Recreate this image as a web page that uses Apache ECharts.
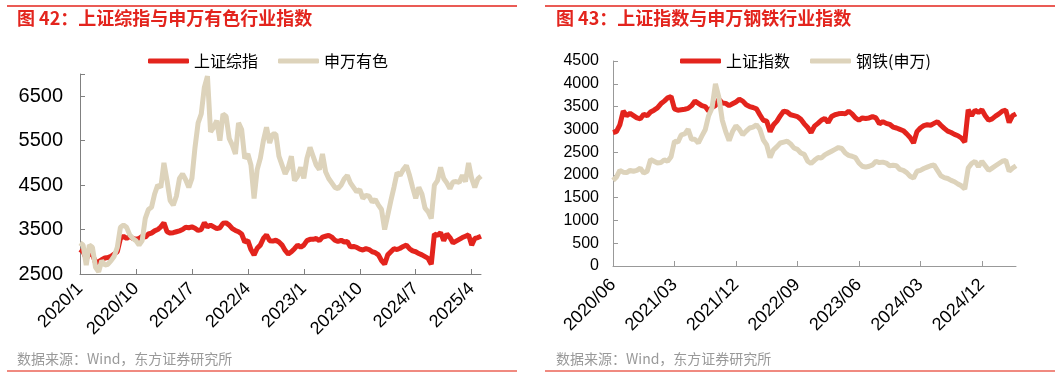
<!DOCTYPE html>
<html><head><meta charset="utf-8">
<script src="https://cdn.jsdelivr.net/npm/echarts@6/dist/echarts.min.js"></script>
<style>html,body{margin:0;padding:0;background:#fff}#c{width:1061px;height:379px}</style>
</head><body><div id="c"></div>
<script>
// ---- Left chart: 上证综指 vs 申万有色 (semi-monthly, from 2020/1) ----
const leftStart = [2020, 1];
const leftTickLabels = ['2020/1','2020/10','2021/7','2022/4','2023/1','2023/10','2024/7','2025/4'];
const szzz = [3050,3000,2850,2950,2950,2750,2780,2820,2860,2870,2900,2950,3000,3300,3350,3300,3350,3300,3280,3300,
  3350,3330,3400,3420,3470,3500,3560,3650,3450,3420,3430,3450,3470,3500,3550,3540,3560,3530,3480,3500,
  3650,3560,3600,3560,3520,3540,3640,3650,3600,3520,3480,3450,3400,3220,3250,3050,2930,3080,3150,3300,
  3380,3250,3240,3260,3220,3150,3030,2950,3000,3070,3150,3100,3150,3250,3280,3280,3300,3250,3330,3350,
  3370,3330,3260,3230,3260,3220,3230,3110,3120,3100,3060,3040,3070,3050,3000,2980,2930,2800,2720,2930,
  3000,3070,3050,3080,3120,3150,3070,3020,3000,2960,2930,2890,2850,2720,3400,3370,3430,3250,3400,3320,
  3200,3240,3280,3320,3350,3380,3150,3300,3320,3350];
const swys = [3200,3150,2700,3150,3100,2650,2550,2800,2700,2720,2800,2900,3100,3550,3600,3550,3380,3300,3250,3150,
  3250,3750,3950,4000,4300,4500,4450,5000,4600,4150,4050,4250,4650,4750,4620,4450,4650,5350,5900,6100,
  6700,6950,5700,5800,5950,5500,6100,6050,5550,5400,5200,5900,5750,5100,5200,4950,4200,4850,5100,5500,
  5800,5450,5650,5650,5150,4950,4750,4900,5150,4600,4700,4900,4650,5100,5350,5150,4950,4850,5200,4800,
  4650,4550,4450,4420,4500,4640,4720,4550,4450,4350,4400,4200,4270,4250,4120,4180,4050,3950,3500,3820,
  4150,4450,4780,4720,4850,4940,4720,4450,4200,4450,4300,3980,3900,3750,4500,4600,4900,4650,4550,4420,
  4570,4580,4560,4720,4580,5000,4650,4450,4640,4700];

// ---- Right chart: 上证指数 vs 钢铁(申万) (semi-monthly, from 2020/6) ----
const rightStart = [2020, 6];
const rightTickLabels = ['2020/06','2021/03','2021/12','2022/09','2023/06','2024/03','2024/12'];
const szzs = [2930,2950,3100,3400,3300,3350,3300,3250,3230,3330,3300,3380,3420,3470,3560,3620,3690,3720,3450,3420,
  3430,3440,3460,3520,3620,3570,3520,3500,3400,3480,3520,3660,3580,3570,3520,3560,3600,3660,3620,3540,
  3500,3480,3450,3320,3200,3180,2950,3100,3180,3300,3400,3380,3320,3300,3280,3220,3120,3040,2930,3070,
  3130,3200,3240,3150,3280,3320,3340,3350,3340,3400,3340,3250,3200,3250,3240,3250,3280,3250,3120,3170,
  3130,3110,3050,3030,3000,2970,2900,2820,2700,2950,3030,3080,3100,3090,3130,3170,3090,3020,2960,2930,
  2890,2860,2810,2720,3430,3300,3420,3370,3430,3300,3200,3230,3290,3340,3400,3420,3150,3300,3340];
const gtsw = [1880,1950,2100,2060,2050,2100,2080,2100,2150,2040,2080,2340,2300,2260,2270,2330,2300,2400,2740,2720,
  2880,2900,3000,2780,2780,2700,2850,2990,3300,3470,4000,3700,3200,2950,2750,2950,3080,3000,2880,2960,
  3030,3050,3100,3000,2770,2660,2380,2550,2620,2700,2720,2740,2680,2590,2560,2480,2450,2300,2250,2320,
  2380,2370,2440,2480,2520,2560,2600,2580,2480,2430,2410,2380,2260,2190,2170,2190,2220,2300,2270,2280,
  2260,2200,2210,2200,2120,2100,2050,1970,1930,2080,2100,2140,2170,2200,2220,2100,1980,1940,1920,1880,
  1850,1800,1760,1690,2150,2250,2300,2180,2300,2200,2100,2150,2200,2250,2300,2320,2080,2150,2200];

function semiMonthly(start, n, pad) {
  const out = [];
  for (let i = 0; i < n; i++) {
    const m = start[1] - 1 + Math.floor(i / 2);
    const y = start[0] + Math.floor(m / 12);
    const mm = (m % 12) + 1;
    const d = i % 2 === 0 ? '01' : '16';
    out.push(y + '/' + (pad && mm < 10 ? '0' + mm : mm) + '/' + d);
  }
  return out;
}
const leftDates = semiMonthly(leftStart, szzz.length, false);
const rightDates = semiMonthly(rightStart, szzs.length, true);

const RED = '#e3241d', BEIGE = '#ddd3bb';
const tickEvery = (i) => i % 18 === 0;
const CJK = 'Noto Sans CJK SC, sans-serif';
const LAT = 'Liberation Sans, Arial, sans-serif';

const chart = echarts.init(document.getElementById('c'), null, {renderer: 'canvas'});
chart.setOption({
  animation: false,
  textStyle: {fontFamily: LAT},
  title: [
    {text: '图 42：上证综指与申万有色行业指数', left: 17, top: 9, padding: 0,
     textStyle: {color: RED, fontSize: 18, fontWeight: 'bold', fontFamily: CJK}},
    {text: '图 43：上证指数与申万钢铁行业指数', left: 556, top: 9, padding: 0,
     textStyle: {color: RED, fontSize: 18, fontWeight: 'bold', fontFamily: CJK}}
  ],
  graphic: [
    {type: 'line', shape: {x1: 7, y1: 6, x2: 517, y2: 6}, style: {stroke: RED, lineWidth: 1.5}},
    {type: 'line', shape: {x1: 545, y1: 6, x2: 1055, y2: 6}, style: {stroke: RED, lineWidth: 1.5}},
    {type: 'line', shape: {x1: 7, y1: 371, x2: 517, y2: 371}, style: {stroke: '#f08a80', lineWidth: 2}},
    {type: 'line', shape: {x1: 545, y1: 371, x2: 1055, y2: 371}, style: {stroke: '#f08a80', lineWidth: 2}},
    {type: 'text', left: 17, top: 352, style: {text: '数据来源：Wind，东方证券研究所', fill: '#999', fontSize: 14, fontFamily: CJK}},
    {type: 'text', left: 556, top: 352, style: {text: '数据来源：Wind，东方证券研究所', fill: '#999', fontSize: 14, fontFamily: CJK}}
  ],
  legend: [
    {left: 148, top: 53, padding: 0, itemWidth: 41, itemHeight: 5, itemGap: 20, icon: 'roundRect',
     textStyle: {fontSize: 16, color: '#000', fontFamily: CJK},
     data: [{name: '上证综指', itemStyle: {color: RED}}, {name: '申万有色', itemStyle: {color: BEIGE}}]},
    {left: 680, top: 53, padding: 0, itemWidth: 41, itemHeight: 5, itemGap: 20, icon: 'roundRect',
     textStyle: {fontSize: 16, color: '#000', fontFamily: CJK},
     data: [{name: '上证指数', itemStyle: {color: RED}}, {name: '钢铁(申万)', itemStyle: {color: BEIGE}}]}
  ],
  grid: [
    {left: 80, top: 74, right: 580, bottom: 105},
    {left: 613, top: 61, right: 45, bottom: 113}
  ],
  xAxis: [
    {type: 'category', gridIndex: 0, data: leftDates, boundaryGap: false,
     axisLine: {lineStyle: {color: '#808080'}},
     axisTick: {inside: true, interval: tickEvery, length: 5, lineStyle: {color: '#808080'}},
     axisLabel: {interval: tickEvery, rotate: 45, fontSize: 18, color: '#000', margin: 12,
       formatter: (v, i) => leftTickLabels[Math.round(i / 18)] || ''}},
    {type: 'category', gridIndex: 1, data: rightDates, boundaryGap: false,
     axisLine: {lineStyle: {color: '#999'}},
     axisTick: {inside: true, interval: tickEvery, length: 5, lineStyle: {color: '#999'}},
     axisLabel: {interval: tickEvery, rotate: 45, fontSize: 18, color: '#000', margin: 16,
       formatter: (v, i) => rightTickLabels[Math.round(i / 18)] || ''}}
  ],
  yAxis: [
    {type: 'value', gridIndex: 0, min: 2500, max: 7000, interval: 1000,
     axisLine: {show: true, lineStyle: {color: '#808080'}},
     axisTick: {show: true, inside: true, length: 5, lineStyle: {color: '#808080'}},
     splitLine: {show: false},
     axisLabel: {fontSize: 20, color: '#000', margin: 17, formatter: (v) => (v === 7000 ? '' : String(v))}},
    {type: 'value', gridIndex: 1, min: 0, max: 4500, interval: 500,
     axisLine: {show: true, lineStyle: {color: '#999'}},
     axisTick: {show: true, inside: true, length: 5, lineStyle: {color: '#999'}},
     splitLine: {show: false},
     axisLabel: {fontSize: 16, color: '#000', margin: 14, formatter: (v) => String(v)}}
  ],
  series: [
    {name: '上证综指', type: 'line', xAxisIndex: 0, yAxisIndex: 0, data: szzz, showSymbol: false,
     lineStyle: {color: RED, width: 5}, itemStyle: {color: RED}},
    {name: '申万有色', type: 'line', xAxisIndex: 0, yAxisIndex: 0, data: swys, showSymbol: false,
     lineStyle: {color: BEIGE, width: 5}, itemStyle: {color: BEIGE}},
    {name: '上证指数', type: 'line', xAxisIndex: 1, yAxisIndex: 1, data: szzs, showSymbol: false,
     lineStyle: {color: RED, width: 5}, itemStyle: {color: RED}},
    {name: '钢铁(申万)', type: 'line', xAxisIndex: 1, yAxisIndex: 1, data: gtsw, showSymbol: false,
     lineStyle: {color: BEIGE, width: 5}, itemStyle: {color: BEIGE}}
  ]
});
</script></body></html>
